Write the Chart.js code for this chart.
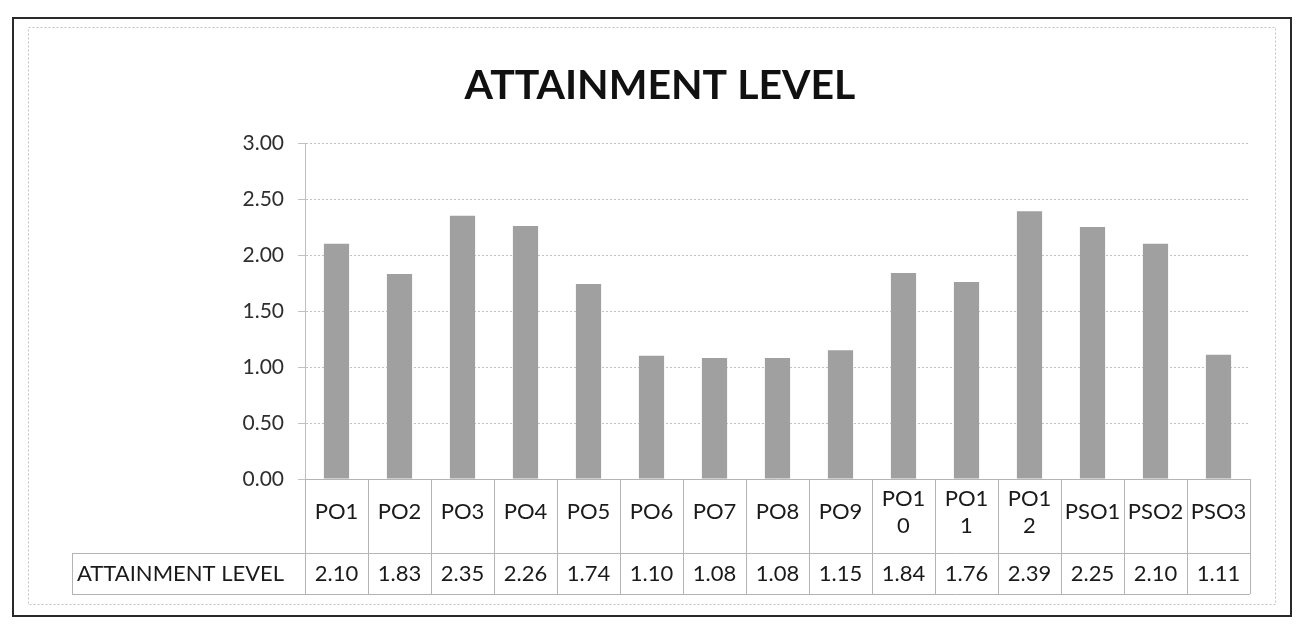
<!DOCTYPE html>
<html>
<head>
<meta charset="utf-8">
<script src="https://cdn.jsdelivr.net/npm/chart.js@4.4.0/dist/chart.umd.min.js"></script>
<style>
  html, body { margin: 0; padding: 0; background: #ffffff; }
  #wrap { width: 1297px; height: 625px; position: relative; }
</style>
</head>
<body>
<div id="wrap"><canvas id="c" width="1297" height="625"></canvas></div>
<script>
const categories = ["PO1","PO2","PO3","PO4","PO5","PO6","PO7","PO8","PO9","PO10","PO11","PO12","PSO1","PSO2","PSO3"];
const tickLabels = [["PO1"],["PO2"],["PO3"],["PO4"],["PO5"],["PO6"],["PO7"],["PO8"],["PO9"],["PO1","0"],["PO1","1"],["PO1","2"],["PSO1"],["PSO2"],["PSO3"]];
const attainment = [2.10, 1.83, 2.35, 2.26, 1.74, 1.10, 1.08, 1.08, 1.15, 1.84, 1.76, 2.39, 2.25, 2.10, 1.11];
const seriesName = "ATTAINMENT LEVEL";
const chartTitle = "ATTAINMENT LEVEL";
const yTicks = [0, 0.5, 1.0, 1.5, 2.0, 2.5, 3.0];

const FONT = "Lato, 'Open Sans', sans-serif";
const TABLE_CAT_BOTTOM = 553;
const TABLE_VAL_BOTTOM = 594;
const LABEL_LEFT = 72;

const framePlugin = {
  id: 'frame',
  beforeDraw(chart) {
    const ctx = chart.ctx;
    ctx.save();
    ctx.fillStyle = '#ffffff';
    ctx.fillRect(0, 0, chart.width, chart.height);
    ctx.strokeStyle = '#c4c4c4';
    ctx.lineWidth = 1;
    ctx.setLineDash([2, 2]);
    ctx.strokeRect(28.5, 27.5, 1247, 577);
    ctx.setLineDash([]);
    ctx.strokeStyle = '#2a2a2a';
    ctx.lineWidth = 2;
    ctx.strokeRect(13, 18, 1278, 598);
    // title
    ctx.fillStyle = '#111111';
    ctx.font = 'bold 41px ' + FONT;
    ctx.textAlign = 'center';
    ctx.textBaseline = 'alphabetic';
    ctx.fillText(chartTitle, 660, 99);
    ctx.restore();
  }
};

const tablePlugin = {
  id: 'dataTable',
  afterDraw(chart) {
    const ctx = chart.ctx;
    const xs = chart.scales.x;
    const area = chart.chartArea;
    const n = categories.length;
    const colW = (area.right - area.left) / n;
    const top = area.bottom;
    ctx.save();
    ctx.strokeStyle = '#b4b4b4';
    ctx.lineWidth = 1;
    ctx.beginPath();
    ctx.moveTo(area.left, top + 0.5); ctx.lineTo(area.right, top + 0.5);
    ctx.moveTo(LABEL_LEFT, TABLE_CAT_BOTTOM + 0.5); ctx.lineTo(area.right, TABLE_CAT_BOTTOM + 0.5);
    ctx.moveTo(LABEL_LEFT, TABLE_VAL_BOTTOM + 0.5); ctx.lineTo(area.right, TABLE_VAL_BOTTOM + 0.5);
    ctx.moveTo(LABEL_LEFT + 0.5, TABLE_CAT_BOTTOM); ctx.lineTo(LABEL_LEFT + 0.5, TABLE_VAL_BOTTOM);
    for (let i = 0; i <= n; i++) {
      const x = Math.round((i < n ? xs.getPixelForValue(i) - colW / 2 : xs.getPixelForValue(n - 1) + colW / 2)) + 0.5;
      ctx.moveTo(x, top); ctx.lineTo(x, TABLE_VAL_BOTTOM);
    }
    ctx.stroke();

    ctx.fillStyle = '#1a1a1a';
    ctx.font = '22px ' + FONT;
    ctx.textAlign = 'center';
    ctx.textBaseline = 'middle';
    const catMid = (top + TABLE_CAT_BOTTOM) / 2 - 4;
    const valMid = (TABLE_CAT_BOTTOM + TABLE_VAL_BOTTOM) / 2;
    const lh = 27;
    for (let i = 0; i < n; i++) {
      const x = xs.getPixelForValue(i);
      const lines = tickLabels[i];
      const y0 = catMid - (lines.length - 1) * lh / 2;
      lines.forEach((ln, k) => ctx.fillText(ln, x, y0 + k * lh));
      ctx.fillText(attainment[i].toFixed(2), x, valMid);
    }
    ctx.textAlign = 'left';
    ctx.fillText(seriesName, LABEL_LEFT + 5, valMid);
    ctx.restore();
  }
};

new Chart(document.getElementById('c'), {
  type: 'bar',
  data: {
    labels: categories,
    datasets: [{
      label: seriesName,
      data: attainment,
      backgroundColor: '#a0a0a0',
      borderWidth: 0,
      barPercentage: 0.4,
      categoryPercentage: 1.0
    }]
  },
  options: {
    responsive: false,
    animation: false,
    layout: { padding: { left: 0, right: 47, top: 143, bottom: 146 } },
    plugins: {
      legend: { display: false },
      tooltip: { enabled: false },
      title: { display: false }
    },
    scales: {
      x: { display: false, offset: true },
      y: {
        min: 0,
        max: 3,
        afterBuildTicks(scale) { scale.ticks = yTicks.map(v => ({ value: v })); },
        afterFit(scale) { scale.width = 305; },
        ticks: {
          color: '#2e2e2e',
          font: { family: FONT, size: 21 },
          padding: 14,
          callback: (v) => Number(v).toFixed(2)
        },
        grid: { color: '#c2c2c2', lineWidth: 1, tickLength: 7, tickColor: '#c2c2c2' },
        border: { display: true, color: '#bdbdbd', dash: [2, 2] }
      }
    }
  },
  plugins: [framePlugin, tablePlugin]
});
</script>
</body>
</html>
